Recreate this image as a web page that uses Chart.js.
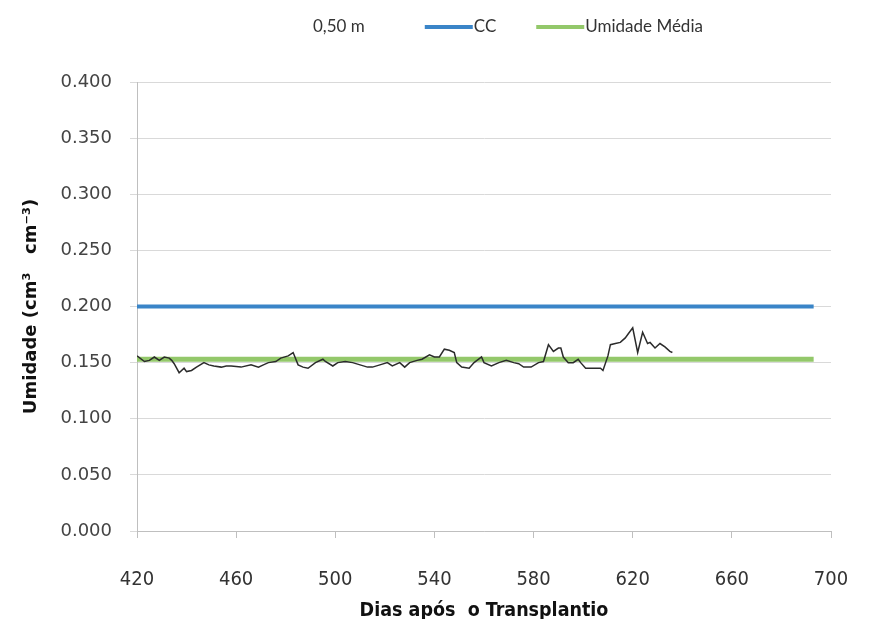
<!DOCTYPE html>
<html>
<head>
<meta charset="utf-8">
<script src="https://cdn.jsdelivr.net/npm/chart.js@4"></script>
<style>
  body { margin: 0; background: #fff; }
</style>
</head>
<body>
<canvas id="umidChart" width="869" height="619"></canvas>
<script>
// days after transplant and soil moisture (0,50 m depth)
const dias = [420, 423, 425, 427, 429, 431, 433, 434, 435, 437, 439, 440, 442, 444, 447, 449, 451, 454, 456, 458,
    462, 466, 469, 471, 473, 476, 478, 481, 483, 485, 487, 489, 492, 495, 496, 499, 501, 504, 507, 510,
    513, 515, 518, 521, 523, 526, 528, 530, 533, 535, 538, 540, 542, 544, 546, 548, 549, 551, 554, 556,
    559, 560, 563, 566, 569, 572, 574, 576, 579, 582, 584, 586, 588, 590, 591, 592, 594, 596, 598, 599,
    601, 604, 607, 608, 610, 611, 613, 615, 617, 618, 620, 622, 624, 626, 627, 629, 631, 633, 635, 636];
const umidade = [0.156, 0.151, 0.152, 0.155, 0.152, 0.155, 0.154, 0.152, 0.149, 0.141, 0.145, 0.142, 0.143, 0.146, 0.150, 0.148, 0.147, 0.146, 0.147, 0.147,
    0.146, 0.148, 0.146, 0.148, 0.150, 0.151, 0.154, 0.156, 0.159, 0.148, 0.146, 0.145, 0.150, 0.153, 0.151, 0.147, 0.150, 0.151, 0.150, 0.148,
    0.146, 0.146, 0.148, 0.150, 0.147, 0.150, 0.146, 0.150, 0.152, 0.153, 0.157, 0.155, 0.155, 0.162, 0.161, 0.159, 0.150, 0.146, 0.145, 0.150,
    0.155, 0.150, 0.147, 0.150, 0.152, 0.150, 0.149, 0.146, 0.146, 0.150, 0.151, 0.166, 0.160, 0.163, 0.163, 0.155, 0.150, 0.150, 0.153, 0.150,
    0.145, 0.145, 0.145, 0.143, 0.156, 0.166, 0.167, 0.168, 0.172, 0.175, 0.181, 0.159, 0.177, 0.167, 0.168, 0.163, 0.167, 0.164, 0.160, 0.159];

// capacidade de campo and mean moisture, constant over the period
const refDias = [420, 693];
const cc = [0.200, 0.200];
const umidadeMedia = [0.153, 0.153];

const seriesNames = ['0,50 m', 'CC', 'Umidade Média'];

function toPoints(xs, ys) {
    return xs.map((x, i) => ({ x: x, y: ys[i] }));
}

// legend drawn as one row above the plot, like the original
const legendRow = {
    id: 'legendRow',
    afterDraw(chart) {
        const ctx = chart.ctx;
        ctx.save();
        ctx.font = '17px Lato';
        ctx.textBaseline = 'middle';
        let x = 313;
        const y = 27;
        chart.data.datasets.forEach((ds, i) => {
            if (i > 0) {
                ctx.strokeStyle = ds.borderColor;
                ctx.lineWidth = 4;
                ctx.beginPath();
                ctx.moveTo(x, y);
                ctx.lineTo(x + 48, y);
                ctx.stroke();
                x += 49;
            }
            ctx.fillStyle = '#333';
            ctx.fillText(ds.label, x, y);
            x += ctx.measureText(ds.label).width + (i === 0 ? 60 : 40);
        });
        ctx.restore();
    }
};

const ctx = document.getElementById('umidChart');

new Chart(ctx, {
    type: 'line',
    data: {
        datasets: [{
            label: seriesNames[0],
            data: toPoints(dias, umidade),
            borderColor: '#2b2b2b',
            borderWidth: 1.5,
            pointRadius: 0,
            order: 0
        }, {
            label: seriesNames[1],
            data: toPoints(refDias, cc),
            borderColor: '#3a85c8',
            borderWidth: 4,
            pointRadius: 0,
            order: 1
        }, {
            label: seriesNames[2],
            data: toPoints(refDias, umidadeMedia),
            borderColor: '#93c86a',
            borderWidth: 5,
            pointRadius: 0,
            order: 2
        }]
    },
    options: {
        responsive: false,
        animation: false,
        devicePixelRatio: 1,
        layout: {
            padding: { top: 82, left: 15, right: 0, bottom: 0 }
        },
        plugins: {
            legend: { display: false },
            tooltip: { enabled: false }
        },
        scales: {
            x: {
                type: 'linear',
                min: 420,
                max: 700,
                ticks: {
                    stepSize: 40,
                    padding: 30,
                    color: '#333',
                    font: { family: '"DejaVu Sans Condensed", "DejaVu Sans"', size: 20 }
                },
                grid: {
                    drawOnChartArea: false,
                    tickLength: 7,
                    color: '#bfbfbf'
                },
                border: { color: '#bfbfbf' },
                title: {
                    display: true,
                    text: 'Dias após  o Transplantio',
                    color: '#111',
                    padding: { top: 0, bottom: -4 },
                    font: { family: '"DejaVu Sans Condensed", "DejaVu Sans"', size: 19.5, weight: 'bold' }
                },
                afterFit(scale) {
                    scale.height = 88;
                    scale.paddingRight = 38;
                }
            },
            y: {
                min: 0,
                max: 0.4,
                ticks: {
                    stepSize: 0.05,
                    padding: 18,
                    color: '#444',
                    font: { family: '"DejaVu Sans"', size: 18 },
                    callback: v => v.toFixed(3)
                },
                grid: {
                    color: '#d9d9d9',
                    tickLength: 7
                },
                border: { color: '#bfbfbf' },
                title: {
                    display: true,
                    text: 'Umidade (cm³   cm⁻³)',
                    color: '#111',
                    padding: { top: 6, bottom: 0 },
                    font: { family: '"DejaVu Sans"', size: 18, weight: 'bold' }
                },
                afterFit(scale) {
                    scale.width = 122;
                }
            }
        }
    },
    plugins: [legendRow]
});
</script>
</body>
</html>
